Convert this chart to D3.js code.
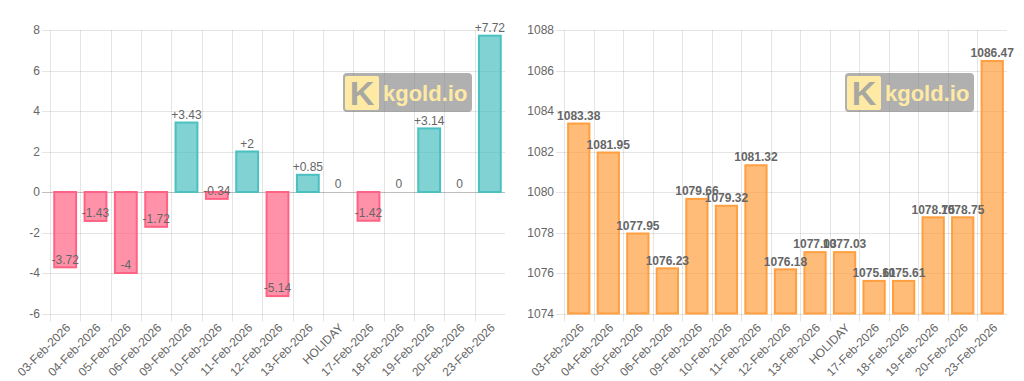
<!DOCTYPE html>
<html><head><meta charset="utf-8">
<script src="https://cdn.jsdelivr.net/npm/d3@7"></script>
<style>
html,body{margin:0;padding:0;background:#fff;}
svg{display:block;font-family:"Liberation Sans",Arial,Helvetica,sans-serif;}
</style></head>
<body>
<svg id="c" width="1024" height="381"></svg>
<script>
const categories = ["03-Feb-2026","04-Feb-2026","05-Feb-2026","06-Feb-2026","09-Feb-2026","10-Feb-2026","11-Feb-2026","12-Feb-2026","13-Feb-2026","HOLIDAY","17-Feb-2026","18-Feb-2026","19-Feb-2026","20-Feb-2026","23-Feb-2026"];
const changeValues = [-3.72,-1.43,-4,-1.72,3.43,-0.34,2,-5.14,0.85,0,-1.42,0,3.14,0,7.72];
const priceValues = [1083.38,1081.95,1077.95,1076.23,1079.66,1079.32,1081.32,1076.18,1077.03,1077.03,1075.61,1075.61,1078.75,1078.75,1086.47];
const changeTicks = [-6,-4,-2,0,2,4,6,8];
const priceTicks = [1074,1076,1078,1080,1082,1084,1086,1088];

const svg = d3.select("#c");

function drawChart(opt){
  const g = svg.append("g");
  const x = d3.scaleBand().domain(categories).range([opt.x0, opt.x1]).paddingInner(0).paddingOuter(0);
  const y = d3.scaleLinear().domain([opt.ticks[0], opt.ticks[opt.ticks.length-1]]).range([opt.y1, opt.y0]);
  const grid = "rgba(0,0,0,0.1)";
  // horizontal grid + tick marks
  g.selectAll(".hg").data(opt.ticks).join("line")
    .attr("x1", opt.x0-8).attr("x2", opt.x1)
    .attr("y1", d=>Math.round(y(d))+0.5).attr("y2", d=>Math.round(y(d))+0.5)
    .attr("stroke", d=> (opt.zero && d===0) ? "rgba(0,0,0,0.25)" : grid).attr("stroke-width",1);
  // vertical grid at category boundaries
  g.selectAll(".vg").data(categories).join("line")
    .attr("x1", d=>Math.round(x(d))+0.5).attr("x2", d=>Math.round(x(d))+0.5)
    .attr("y1", opt.y0).attr("y2", opt.y1+8)
    .attr("stroke", grid).attr("stroke-width",1);
  // y tick labels
  g.selectAll(".yl").data(opt.ticks).join("text")
    .attr("x", opt.x0-10).attr("y", d=>y(d)).attr("dy","0.35em")
    .attr("text-anchor","end").attr("font-size",12).attr("fill","#666")
    .text(d=>d);
  // x tick labels
  g.selectAll(".xl").data(categories).join("text")
    .attr("transform", d=>`translate(${x(d)+x.bandwidth()/2+3},${opt.y1+12}) rotate(-45)`)
    .attr("text-anchor","end").attr("dy","0.35em")
    .attr("font-size",12).attr("fill","#666")
    .text(d=>d);
  // bars
  const bw = x.bandwidth()*0.72;
  const base = opt.base;
  g.selectAll(".bar").data(opt.values).join("rect")
    .attr("x", (d,i)=>x(categories[i]) + (x.bandwidth()-bw)/2)
    .attr("y", d=> Math.min(y(d), y(base)))
    .attr("width", bw)
    .attr("height", d=> Math.abs(y(d)-y(base)))
    .attr("fill", d=>opt.fill(d))
    .attr("stroke", d=>opt.stroke(d)).attr("stroke-width", d=> d===base && opt.zero ? 0 : 2);
  // watermark
  const wm = g.append("g").attr("transform",`translate(${opt.wmx},73)`);
  wm.append("rect").attr("width",129).attr("height",39).attr("rx",4).attr("fill","rgba(128,128,128,0.62)");
  wm.append("rect").attr("x",2).attr("y",3).attr("width",34).attr("height",34).attr("rx",2).attr("fill","#ffeaa5");
  wm.append("text").attr("x",19).attr("y",32).attr("text-anchor","middle").attr("font-size",34).attr("font-weight","bold")
    .attr("fill","#a8a8a0").text("K");
  wm.append("text").attr("x",40).attr("y",28).attr("font-size",22).attr("font-weight","bold")
    .attr("fill","#ffeaa5").text("kgold.io");
  // data labels
  g.selectAll(".dl").data(opt.values).join("text")
    .attr("x", (d,i)=>x(categories[i]) + x.bandwidth()/2)
    .attr("y", d=>y(d)-8).attr("dy","0.35em")
    .attr("text-anchor","middle").attr("font-size",12)
    .attr("font-weight", opt.bold ? "bold" : "normal")
    .attr("fill","#666")
    .text(d=>opt.fmt(d));
}

drawChart({
  x0:50, x1:505, y0:30, y1:313.5, ticks:changeTicks, values:changeValues, base:0, zero:true,
  fill:d=> d<0 ? "rgba(255,99,132,0.7)" : "rgba(75,192,192,0.7)",
  stroke:d=> d<0 ? "rgb(255,99,132)" : "rgb(75,192,192)",
  fmt:d=> d>0 ? "+"+d : String(d), bold:false, wmx:343
});
drawChart({
  x0:564, x1:1007, y0:30, y1:313.5, ticks:priceTicks, values:priceValues, base:1074, zero:false,
  fill:()=> "rgba(255,159,64,0.7)", stroke:()=> "rgb(255,159,64)",
  fmt:d=> d.toFixed(2), bold:true, wmx:845
});
</script>
</body></html>
